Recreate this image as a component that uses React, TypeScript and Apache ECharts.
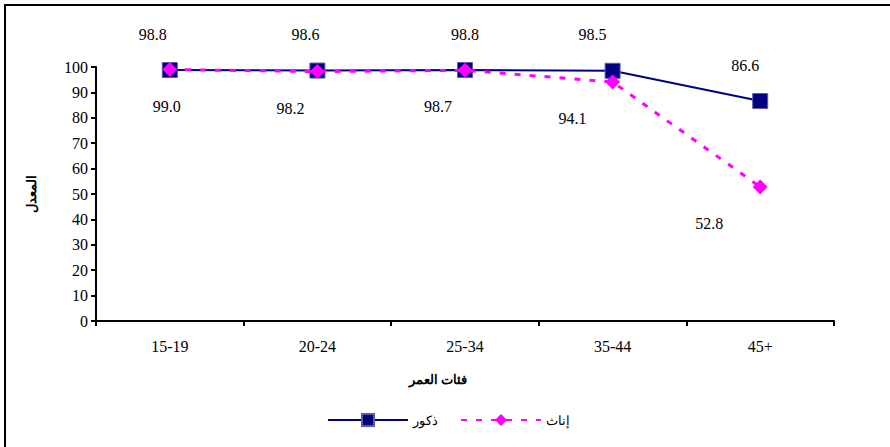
import React, { useEffect, useRef } from "react";
import * as echarts from "echarts";

const categories = ["15-19", "20-24", "25-34", "35-44", "45+"];
const maleValues = [98.8, 98.6, 98.8, 98.5, 86.6];
const femaleValues = [99.0, 98.2, 98.7, 94.1, 52.8];
const yTicks = { min: 0, max: 100, interval: 10 };
const maleName = "ذكور";
const femaleName = "إناث";
const yTitle = "المعدل";
const xTitle = "فئات العمر";

// label horizontal shifts (layout only)
const maleLabelShiftX = [-17, -12, 0, -20, -15];
const femaleLabelShiftX = [-3, -27, -27, -40, -51];

const serif = "Liberation Serif, Times New Roman, serif";
const sans = "Liberation Sans, Arial, sans-serif";

export default function App() {
  const ref = useRef<HTMLDivElement>(null);
  useEffect(() => {
    document.body.style.margin = "0";
    if (!ref.current) return;
    const chart = echarts.init(ref.current, undefined, { renderer: "svg" });
    chart.setOption({
      animation: false,
      backgroundColor: "#ffffff",
      grid: { left: 96, right: 56, top: 67, bottom: 126 },
      graphic: [
        {
          type: "rect",
          shape: { x: 5, y: 5, width: 960, height: 500 },
          style: { fill: "none", stroke: "#000", lineWidth: 2 },
          silent: true,
          z: -1,
        },
      ],
      legend: {
        left: 322,
        top: 408,
        itemWidth: 80,
        itemHeight: 15,
        itemGap: 22,
        textStyle: { fontFamily: sans, fontSize: 13, color: "#000" },
        data: [maleName, femaleName],
      },
      xAxis: {
        type: "category",
        data: categories,
        boundaryGap: true,
        name: xTitle,
        nameLocation: "middle",
        nameGap: 52,
        nameTextStyle: {
          fontFamily: sans,
          fontSize: 13,
          fontWeight: "bold",
          color: "#000",
          padding: [0, 54, 0, 0],
        },
        axisLine: { lineStyle: { color: "#000", width: 2 } },
        axisTick: { show: true, inside: false, length: 5, alignWithLabel: false, lineStyle: { color: "#000", width: 2 } },
        axisLabel: { fontFamily: serif, fontSize: 16, color: "#000", margin: 17 },
        splitLine: { show: false },
      },
      yAxis: {
        type: "value",
        min: yTicks.min,
        max: yTicks.max,
        interval: yTicks.interval,
        name: yTitle,
        nameLocation: "middle",
        nameRotate: 90,
        nameGap: 58,
        nameTextStyle: { fontFamily: sans, fontSize: 13, fontWeight: "bold", color: "#000" },
        axisLine: { show: true, lineStyle: { color: "#000", width: 2 } },
        axisTick: { show: true, length: 5, lineStyle: { color: "#000", width: 2 } },
        axisLabel: { fontFamily: serif, fontSize: 16, color: "#000", margin: 8 },
        splitLine: { show: false },
      },
      series: [
        {
          name: maleName,
          type: "line",
          data: maleValues.map((v, i) => ({
            value: v,
            label: { offset: [maleLabelShiftX[i], 0] },
          })),
          symbol: "rect",
          symbolSize: 15,
          lineStyle: { color: "#000080", width: 2 },
          itemStyle: { color: "#000080", borderColor: "#5a5aa8", borderWidth: 1 },
          label: {
            show: true,
            position: "top",
            distance: 20,
            formatter: (p: any) => Number(p.value).toFixed(1),
            fontFamily: serif,
            fontSize: 16,
            color: "#000",
          },
          z: 2,
        },
        {
          name: femaleName,
          type: "line",
          data: femaleValues.map((v, i) => ({
            value: v,
            label: { offset: [femaleLabelShiftX[i], 0] },
          })),
          symbol: "diamond",
          symbolSize: 15,
          lineStyle: { color: "#ff00ff", width: 3, type: [6, 9] },
          itemStyle: { color: "#ff00ff" },
          label: {
            show: true,
            position: "bottom",
            distance: 21,
            formatter: (p: any) => Number(p.value).toFixed(1),
            fontFamily: serif,
            fontSize: 16,
            color: "#000",
          },
          z: 3,
        },
      ],
    });
    return () => chart.dispose();
  }, []);
  return <div ref={ref} style={{ width: 890, height: 447 }} />;
}
